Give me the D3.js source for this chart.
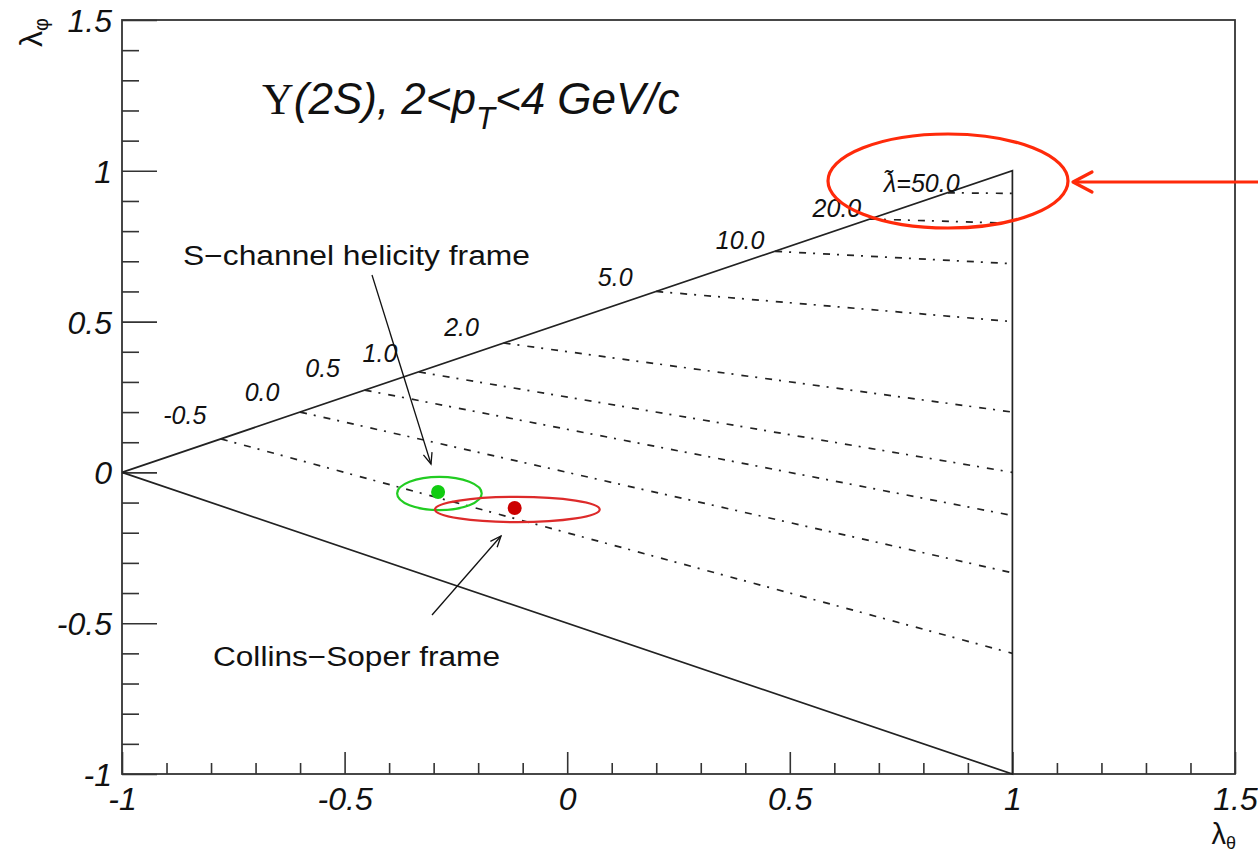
<!DOCTYPE html>
<html>
<head>
<meta charset="utf-8">
<script src="https://cdn.jsdelivr.net/npm/d3@7"></script>
<style>
  html, body { margin: 0; padding: 0; background: #fff; }
  svg { display: block; }
  text { font-family: "Liberation Sans", Arial, Helvetica, sans-serif; fill: #111; }
</style>
</head>
<body>
<svg id="chart" width="1258" height="857"></svg>
<script>
// Allowed region of (lambda_theta, lambda_phi): triangle vertices
const boundaryTheta = [-1, 1, 1, -1];
const boundaryPhi   = [ 0, 1, -1, 0];

// Lines of constant frame-invariant lambda-tilde
const lambdaTilde    = [-0.5, 0.0, 0.5, 1.0, 2.0, 5.0, 10.0, 20.0, 50.0];
const lineStartTheta = [-0.778, -0.600, -0.455, -0.333, -0.143, 0.200, 0.467, 0.680, 0.855];
const lineStartPhi   = [ 0.111,  0.200,  0.273,  0.333,  0.429, 0.600, 0.733, 0.840, 0.927];
const lineEndTheta   = [ 1, 1, 1, 1, 1, 1, 1, 1, 1];
const lineEndPhi     = [-0.600, -0.333, -0.143, 0.000, 0.200, 0.500, 0.692, 0.826, 0.925];

// Measurements: central values and error ellipse half-widths
const frames      = ["S-channel helicity frame", "Collins-Soper frame"];
const pointTheta  = [-0.290, -0.118];
const pointPhi    = [-0.065, -0.118];
const ellTheta    = [-0.287, -0.112];
const ellPhi      = [-0.070, -0.123];
const ellRadTheta = [0.095, 0.185];
const ellRadPhi   = [0.055, 0.042];

// Axis ticks
const majorTicks = [-1, -0.5, 0, 0.5, 1, 1.5];
const minorTicks = d3.range(-10, 16).map(i => i / 10);

// Layout constants (pixels)
const W = 1258, H = 857;
const frameL = 122, frameR = 1235, frameT = 20, frameB = 774;
const labelOffsets = [[-36,-24],[-38,-20],[-42,-22],[-39,-19],[-42,-16],[-41,-14],[-35,-11],[-33,-11],[-26,-10]];
const frameColors = ["#22cc22", "#dd2a2a"];
const dotColors   = ["#11cc11", "#cc0000"];

const svg = d3.select("#chart");
const x = d3.scaleLinear().domain([-1, 1.5]).range([frameL, frameR]);
const y = d3.scaleLinear().domain([-1, 1.5]).range([frameB, frameT]);

// plain hyphen-minus for negative numbers
const fmtTick = v => d3.format("~g")(v).replace("\u2212", "-");
const fmtLab  = v => d3.format(".1f")(v).replace("\u2212", "-");

// ---- axes (ROOT style: ticks inside the frame) ----
const tickFont = "italic 32px 'Liberation Sans', Arial, sans-serif";
function styleAxis(g) {
  g.select(".domain").remove();
  g.selectAll("line").attr("stroke", "#333").attr("stroke-width", 1.6);
}
const gx = svg.append("g").attr("transform", `translate(0,${frameB})`);
gx.append("g").call(d3.axisBottom(x).tickValues(minorTicks.filter(t => !majorTicks.includes(t)))
  .tickSize(-11).tickFormat("")).call(styleAxis);
gx.append("g").call(d3.axisBottom(x).tickValues(majorTicks).tickSize(-22).tickPadding(13)
  .tickFormat(fmtTick)).call(styleAxis)
  .selectAll("text").style("font", tickFont).attr("fill", "#111").attr("dy", "0.71em");

const gy = svg.append("g").attr("transform", `translate(${frameL},0)`);
gy.append("g").call(d3.axisLeft(y).tickValues(minorTicks.filter(t => !majorTicks.includes(t)))
  .tickSize(-17).tickFormat("")).call(styleAxis);
gy.append("g").call(d3.axisLeft(y).tickValues(majorTicks).tickSize(-35).tickPadding(10)
  .tickFormat(fmtTick)).call(styleAxis)
  .selectAll("text").style("font", tickFont).attr("fill", "#111").attr("dy", "0.36em");

// frame
svg.append("rect").attr("x", frameL).attr("y", frameT)
  .attr("width", frameR - frameL).attr("height", frameB - frameT)
  .attr("fill", "none").attr("stroke", "#333").attr("stroke-width", 1.8);

// axis titles
const ly = svg.append("text").attr("transform", `translate(42,18) rotate(-90)`)
  .attr("text-anchor", "end").style("font-size", "32px");
ly.append("tspan").text("λ");
ly.append("tspan").attr("dy", 6).style("font-size", "20px").text("φ");

const lx = svg.append("text").attr("x", 1236).attr("y", 844)
  .attr("text-anchor", "end").style("font-size", "29px");
lx.append("tspan").text("λ");
lx.append("tspan").attr("dy", 5).style("font-size", "18px").text("θ");

// ---- triangle boundary ----
const line = d3.line().x(d => x(d[0])).y(d => y(d[1]));
svg.append("path")
  .attr("d", line(boundaryTheta.map((t, i) => [t, boundaryPhi[i]])))
  .attr("fill", "none").attr("stroke", "#222").attr("stroke-width", 1.7);

// ---- iso-lambda-tilde lines ----
svg.append("g").selectAll("line").data(lambdaTilde).join("line")
  .attr("x1", (d, i) => x(lineStartTheta[i])).attr("y1", (d, i) => y(lineStartPhi[i]))
  .attr("x2", (d, i) => x(lineEndTheta[i])).attr("y2", (d, i) => y(lineEndPhi[i]))
  .attr("stroke", "#222").attr("stroke-width", 1.7)
  .attr("stroke-dasharray", "7,7,2,8");

const lab = svg.append("g").selectAll("text").data(lambdaTilde).join("text")
  .attr("x", (d, i) => x(lineStartTheta[i]) + labelOffsets[i][0])
  .attr("y", (d, i) => y(lineStartPhi[i]) + labelOffsets[i][1])
  .attr("text-anchor", "middle").attr("dominant-baseline", "central")
  .style("font", "italic 25px 'Liberation Sans', Arial, sans-serif");
lab.each(function(d, i) {
  const t = d3.select(this);
  if (i === lambdaTilde.length - 1) {
    t.append("tspan").text("λ\u0303=");
  }
  t.append("tspan").text(fmtLab(d));
});

// ---- error ellipses and central values ----
svg.append("g").selectAll("ellipse").data(frames).join("ellipse")
  .attr("cx", (d, i) => x(ellTheta[i])).attr("cy", (d, i) => y(ellPhi[i]))
  .attr("rx", (d, i) => x(ellRadTheta[i]) - x(0)).attr("ry", (d, i) => y(0) - y(ellRadPhi[i]))
  .attr("fill", "none").attr("stroke", (d, i) => frameColors[i]).attr("stroke-width", 2.2);

svg.append("g").selectAll("circle").data(frames).join("circle")
  .attr("cx", (d, i) => x(pointTheta[i])).attr("cy", (d, i) => y(pointPhi[i]))
  .attr("r", 7).attr("fill", (d, i) => dotColors[i]);

// ---- title ----
const title = svg.append("text").attr("x", 262).attr("y", 114).style("font-size", "44px");
title.append("tspan").style("font-family", "'Liberation Serif', 'Times New Roman', serif").text("Υ");
title.append("tspan").style("font-style", "italic").text("(2S), 2<p");
title.append("tspan").style("font-style", "italic").style("font-size", "31px").attr("dy", 15).text("T");
title.append("tspan").style("font-style", "italic").attr("dy", -15).text("<4 GeV/c");

// ---- annotations ----
const defs = svg.append("defs");
defs.append("marker").attr("id", "headBlack").attr("viewBox", "-12 -6 14 12")
  .attr("refX", 0).attr("refY", 0).attr("markerWidth", 14).attr("markerHeight", 12)
  .attr("markerUnits", "userSpaceOnUse").attr("orient", "auto")
  .append("path").attr("d", "M-11,-4.5 L0,0 L-11,4.5").attr("fill", "none")
  .attr("stroke", "#111").attr("stroke-width", 1.3);

svg.append("text").attr("x", 183).attr("y", 265).style("font-size", "27px")
  .attr("textLength", 347).attr("lengthAdjust", "spacingAndGlyphs")
  .text("S\u2212channel helicity frame");
svg.append("line").attr("x1", 372).attr("y1", 275).attr("x2", 431).attr("y2", 464)
  .attr("stroke", "#111").attr("stroke-width", 1.3).attr("marker-end", "url(#headBlack)");

svg.append("text").attr("x", 213).attr("y", 666).style("font-size", "27px")
  .attr("textLength", 287).attr("lengthAdjust", "spacingAndGlyphs")
  .text("Collins\u2212Soper frame");
svg.append("line").attr("x1", 432).attr("y1", 615).attr("x2", 501).attr("y2", 536)
  .attr("stroke", "#111").attr("stroke-width", 1.3).attr("marker-end", "url(#headBlack)");

// ---- highlight around the lambda-tilde = 50 line ----
const hl = "#ff2a0a";
svg.append("ellipse").attr("cx", 948).attr("cy", 181).attr("rx", 120).attr("ry", 47)
  .attr("fill", "none").attr("stroke", hl).attr("stroke-width", 3.2);
svg.append("line").attr("x1", W).attr("y1", 182).attr("x2", 1073).attr("y2", 182)
  .attr("stroke", hl).attr("stroke-width", 3.2);
svg.append("path").attr("d", "M1092,172 L1073,182 L1092,192")
  .attr("fill", "none").attr("stroke", hl).attr("stroke-width", 3.2)
  .attr("stroke-linecap", "round").attr("stroke-linejoin", "round");
</script>
</body>
</html>
